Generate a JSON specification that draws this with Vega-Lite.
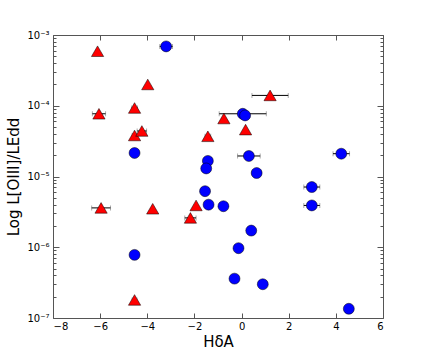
{
  "$schema": "https://vega.github.io/schema/vega-lite/v6.json",
  "width": 330,
  "height": 283,
  "autosize": "none",
  "padding": {"left": 53, "top": 35, "right": 43, "bottom": 36},
  "background": "white",
  "config": {
    "view": {"stroke": "#555555", "strokeWidth": 1},
    "font": "DejaVu Sans",
    "axis": {
      "grid": false,
      "domain": false,
      "labelFont": "DejaVu Sans",
      "titleFont": "DejaVu Sans",
      "labelColor": "black",
      "titleColor": "black",
      "tickColor": "#555555",
      "labelFontSize": 10,
      "titleFontSize": 15,
      "titleFontWeight": "normal"
    }
  },
  "data": {
    "values": [
      {"hd": -6.11, "L": 5.9e-4, "err": 0, "type": "A"},
      {"hd": -3.98, "L": 2.0e-4, "err": 0, "type": "A"},
      {"hd": -6.05, "L": 7.7e-5, "err": 0.28, "type": "A"},
      {"hd": -4.54, "L": 9.3e-5, "err": 0.12, "type": "A"},
      {"hd": -4.54, "L": 3.8e-5, "err": 0.1, "type": "A"},
      {"hd": -4.23, "L": 4.4e-5, "err": 0.2, "type": "A"},
      {"hd": -1.43, "L": 3.7e-5, "err": 0.12, "type": "A"},
      {"hd": 1.21, "L": 1.4e-4, "err": 0.77, "type": "A"},
      {"hd": -0.75, "L": 6.6e-5, "err": 0, "type": "A"},
      {"hd": 0.17, "L": 4.6e-5, "err": 0, "type": "A"},
      {"hd": -5.96, "L": 3.6e-6, "err": 0.4, "type": "A"},
      {"hd": -3.77, "L": 3.5e-6, "err": 0, "type": "A"},
      {"hd": -1.93, "L": 3.9e-6, "err": 0, "type": "A"},
      {"hd": -2.17, "L": 2.6e-6, "err": 0.24, "type": "A"},
      {"hd": -4.54, "L": 1.8e-7, "err": 0.1, "type": "A"},
      {"hd": -3.2, "L": 6.9e-4, "err": 0.27, "type": "B"},
      {"hd": -4.54, "L": 2.15e-5, "err": 0, "type": "B"},
      {"hd": -1.43, "L": 1.66e-5, "err": 0, "type": "B"},
      {"hd": -1.5, "L": 1.3e-5, "err": 0.1, "type": "B"},
      {"hd": 0.05, "L": 7.7e-5, "err": 1.0, "type": "B"},
      {"hd": 0.15, "L": 7.3e-5, "err": 0, "type": "B"},
      {"hd": 0.31, "L": 1.95e-5, "err": 0.48, "type": "B"},
      {"hd": 0.64, "L": 1.12e-5, "err": 0.2, "type": "B"},
      {"hd": 4.23, "L": 2.1e-5, "err": 0.35, "type": "B"},
      {"hd": -1.55, "L": 6.2e-6, "err": 0, "type": "B"},
      {"hd": -1.4, "L": 4.0e-6, "err": 0, "type": "B"},
      {"hd": -0.77, "L": 3.8e-6, "err": 0, "type": "B"},
      {"hd": 0.41, "L": 1.72e-6, "err": 0, "type": "B"},
      {"hd": -0.13, "L": 9.7e-7, "err": 0.15, "type": "B"},
      {"hd": -0.3, "L": 3.6e-7, "err": 0, "type": "B"},
      {"hd": 0.9, "L": 3.0e-7, "err": 0.15, "type": "B"},
      {"hd": 4.55, "L": 1.35e-7, "err": 0, "type": "B"},
      {"hd": 2.98, "L": 7.1e-6, "err": 0.34, "type": "B"},
      {"hd": 2.98, "L": 3.9e-6, "err": 0.34, "type": "B"},
      {"hd": -4.54, "L": 7.8e-7, "err": 0, "type": "B"}
    ]
  },
  "layer": [
    {
      "transform": [{"filter": "datum.err > 0"}],
      "mark": {"type": "errorbar", "color": "black", "thickness": 1, "ticks": {"color": "#888888", "size": 5, "thickness": 1}},
      "encoding": {
        "x": {
          "field": "hd", "type": "quantitative",
          "scale": {"domain": [-8, 6], "nice": false, "zero": false},
          "axis": {"orient": "bottom", "values": [-8, -6, -4, -2, 0, 2, 4, 6], "tickSize": -5, "labelPadding": 8, "title": "HδA", "titlePadding": 3}
        },
        "xError": {"field": "err"},
        "y": {
          "field": "L", "type": "quantitative",
          "scale": {"type": "log", "domain": [1e-7, 1e-3], "nice": false},
          "axis": {
            "orient": "left",
            "values": [1e-7, 2e-7, 3e-7, 4e-7, 5e-7, 6e-7, 7e-7, 8e-7, 9e-7, 1e-6, 2e-6, 3e-6, 4e-6, 5e-6, 6e-6, 7e-6, 8e-6, 9e-6, 1e-5, 2e-5, 3e-5, 4e-5, 5e-5, 6e-5, 7e-5, 8e-5, 9e-5, 1e-4, 2e-4, 3e-4, 4e-4, 5e-4, 6e-4, 7e-4, 8e-4, 9e-4, 1e-3],
            "tickSize": {"condition": {"test": "abs(datum.value / pow(10, round(log(datum.value)/LN10)) - 1) < 0.01", "value": -6}, "value": -3},
            "labelPadding": 10,
            "labelExpr": "abs(datum.value / pow(10, round(log(datum.value)/LN10)) - 1) < 0.01 ? '10' + ['⁻⁷','⁻⁶','⁻⁵','⁻⁴','⁻³'][round(log(datum.value)/LN10) + 7] : ''",
            "title": "Log L[OIII]/LEdd",
            "titlePadding": 5
          }
        }
      }
    },
    {
      "transform": [{"filter": "datum.type == 'A'"}],
      "mark": {"type": "point", "shape": "triangle-up", "filled": true, "fill": "#ff0000", "stroke": "black", "strokeWidth": 0.5, "opacity": 1, "size": 150},
      "encoding": {
        "x": {"field": "hd", "type": "quantitative", "axis": {"orient": "top", "values": [-8, -6, -4, -2, 0, 2, 4, 6], "tickSize": -5, "labels": false, "title": null}},
        "y": {
          "field": "L", "type": "quantitative",
          "axis": {
            "orient": "right",
            "values": [1e-7, 2e-7, 3e-7, 4e-7, 5e-7, 6e-7, 7e-7, 8e-7, 9e-7, 1e-6, 2e-6, 3e-6, 4e-6, 5e-6, 6e-6, 7e-6, 8e-6, 9e-6, 1e-5, 2e-5, 3e-5, 4e-5, 5e-5, 6e-5, 7e-5, 8e-5, 9e-5, 1e-4, 2e-4, 3e-4, 4e-4, 5e-4, 6e-4, 7e-4, 8e-4, 9e-4, 1e-3],
            "tickSize": {"condition": {"test": "abs(datum.value / pow(10, round(log(datum.value)/LN10)) - 1) < 0.01", "value": -6}, "value": -3},
            "labels": false,
            "title": null
          }
        }
      }
    },
    {
      "transform": [{"filter": "datum.type == 'B'"}],
      "mark": {"type": "point", "shape": "circle", "filled": true, "fill": "#0000ff", "stroke": "black", "strokeWidth": 0.5, "opacity": 1, "size": 120},
      "encoding": {
        "x": {"field": "hd", "type": "quantitative", "axis": null},
        "y": {"field": "L", "type": "quantitative", "axis": null}
      }
    }
  ],
  "resolve": {"axis": {"x": "independent", "y": "independent"}}
}
